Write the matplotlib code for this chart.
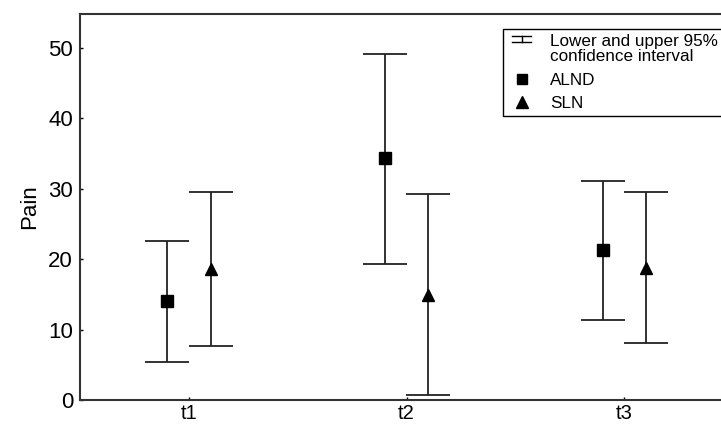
import numpy as np
import matplotlib
matplotlib.use("Agg")
import matplotlib.pyplot as plt
from matplotlib.lines import Line2D

plt.rcParams['font.family'] = ['Liberation Sans', 'DejaVu Sans']

times = ['t1', 't2', 't3']
alnd_mean = [14.0, 34.3, 21.3]
alnd_low = [5.4, 19.3, 11.4]
alnd_high = [22.6, 49.1, 31.1]
sln_mean = [18.6, 14.9, 18.8]
sln_low = [7.7, 0.7, 8.1]
sln_high = [29.6, 29.3, 29.5]

x = np.arange(1, len(times) + 1)
a_mean = np.array(alnd_mean)
s_mean = np.array(sln_mean)
a_err = [a_mean - np.array(alnd_low), np.array(alnd_high) - a_mean]
s_err = [s_mean - np.array(sln_low), np.array(sln_high) - s_mean]


class HandlerCI:
    # small flattened I-beam sitting on the first line of the label
    def legend_artist(self, legend, orig_handle, fontsize, handlebox):
        w, h = handlebox.width, handlebox.height
        cx = w / 2
        cy = h / 2 + 0.6 * fontsize
        hw, hh = 6.8, 2.2
        tr = handlebox.get_transform()
        arts = [Line2D([cx - hw, cx + hw], [cy + hh, cy + hh]),
                Line2D([cx - hw, cx + hw], [cy - hh, cy - hh]),
                Line2D([cx, cx], [cy - hh, cy + hh])]
        for a in arts:
            a.set_color('black')
            a.set_linewidth(1.0)
            a.set_transform(tr)
            handlebox.add_artist(a)
        return arts[0]


fig = plt.figure(figsize=(7.21, 4.26), dpi=100)
ax = fig.add_axes([80 / 721, 26 / 426, 675 / 721, 386 / 426])

ax.errorbar(x - 0.1, a_mean, yerr=a_err, fmt='none', ecolor='#222222',
            elinewidth=1.3, capsize=16, capthick=1.3)
ax.errorbar(x + 0.1, s_mean, yerr=s_err, fmt='none', ecolor='#222222',
            elinewidth=1.3, capsize=16, capthick=1.3)
ax.plot(x - 0.1, a_mean, 's', color='black', markersize=8.5, zorder=3)
ax.plot(x + 0.1, s_mean, '^', color='black', markersize=9, zorder=3)

# legend handles
ci = Line2D([], [], color='black')
sq, = ax.plot([], [], 's', color='black', markersize=7)
tri, = ax.plot([], [], '^', color='black', markersize=8)
leg = ax.legend([ci, sq, tri],
                ['Lower and upper 95%\nconfidence interval', 'ALND', 'SLN'],
                handler_map={ci: HandlerCI()},
                loc='upper left', bbox_to_anchor=(503 / 721, 1 - 29 / 426),
                bbox_transform=fig.transFigure, borderaxespad=0,
                fontsize=12.3, frameon=True, fancybox=False, framealpha=1,
                edgecolor='black', handlelength=1.6, handletextpad=0.85,
                labelspacing=0.5, borderpad=0.3)
leg.get_frame().set_linewidth(1.0)
for t in leg.get_texts():
    t.set_linespacing(1.0)

ax.set_xlim(0.5, 3.6)
ax.set_ylim(0, 54.8)
ax.set_xticks(x)
ax.set_xticklabels(times)
ax.set_yticks([0, 10, 20, 30, 40, 50])
ax.set_ylabel('Pain', fontsize=16, labelpad=6)
ax.tick_params(direction='in', length=2, width=1, labelsize=16, pad=5)
ax.tick_params(axis='x', labelsize=14.5, pad=3)
for sp in ax.spines.values():
    sp.set_linewidth(1.5)
    sp.set_color('#333333')

fig.savefig('out.png', dpi=100)
